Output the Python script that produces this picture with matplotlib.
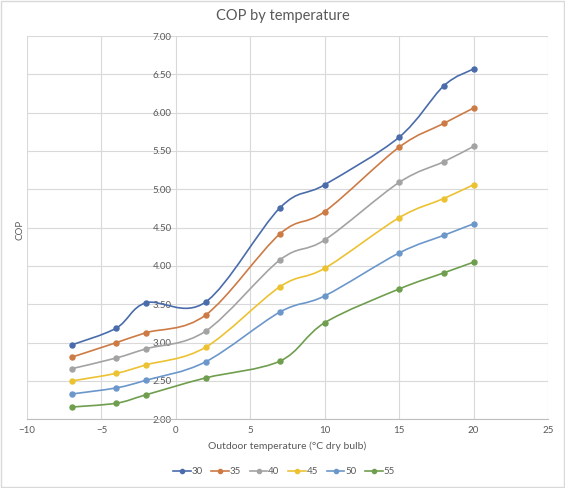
import numpy as np
import matplotlib
matplotlib.use('Agg')
import matplotlib.pyplot as plt
from matplotlib.path import Path
from matplotlib.patches import PathPatch, Rectangle
from matplotlib.lines import Line2D

plt.rcParams['font.family'] = ['Lato', 'DejaVu Sans']

# data
temps = [-7, -4, -2, 2, 7, 10, 15, 18, 20]
series_names = ['30', '35', '40', '45', '50', '55']
cop_30 = [2.97, 3.19, 3.52, 3.53, 4.76, 5.06, 5.68, 6.35, 6.57]
cop_35 = [2.81, 3.00, 3.13, 3.36, 4.42, 4.71, 5.55, 5.86, 6.06]
cop_40 = [2.66, 2.80, 2.92, 3.15, 4.08, 4.34, 5.09, 5.36, 5.56]
cop_45 = [2.50, 2.60, 2.71, 2.94, 3.73, 3.97, 4.63, 4.88, 5.06]
cop_50 = [2.33, 2.41, 2.51, 2.75, 3.40, 3.61, 4.17, 4.40, 4.55]
cop_55 = [2.16, 2.21, 2.32, 2.54, 2.76, 3.26, 3.70, 3.91, 4.05]
colors = ['#4a6cab', '#cd7b45', '#a3a3a3', '#ecc233', '#6b97cb', '#6f9e4e']


def smooth_path(x, y):
    # excel-like smoothed line: bezier segments through the points
    p = np.column_stack([x, y]).astype(float)
    n = len(p)
    verts = [p[0]]
    codes = [Path.MOVETO]
    for i in range(n - 1):
        p_prev = p[i - 1] if i > 0 else p[i]
        p_next2 = p[i + 2] if i + 2 < n else p[i + 1]
        c1 = p[i] + (p[i + 1] - p_prev) / 6
        c2 = p[i + 1] - (p_next2 - p[i]) / 6
        verts += [c1, c2, p[i + 1]]
        codes += [Path.CURVE4] * 3
    return Path(verts, codes)


fig = plt.figure(figsize=(5.65, 4.88), dpi=100)
ax = fig.add_axes([27 / 565, 1 - 419.3 / 488, 521 / 565, 383.3 / 488])

all_series = [cop_30, cop_35, cop_40, cop_45, cop_50, cop_55]
handles = []
for name, vals, c in zip(series_names, all_series, colors):
    ax.add_patch(PathPatch(smooth_path(temps, vals), fill=False, edgecolor=c, lw=1.2, zorder=3))
    ax.plot(temps, vals, 'o', color=c, ms=3.6, zorder=4)
    handles.append(Line2D([], [], color=c, lw=1.2, marker='o', ms=3, label=name))

ax.set_xlim(-10, 25)
ax.set_ylim(2, 7)
ax.set_xticks(np.arange(-10, 26, 5))
ax.set_yticks(np.arange(2, 7.01, 0.5))
ax.set_yticklabels(['%.2f' % v for v in np.arange(2, 7.01, 0.5)])
ax.grid(True, color='#d9d9d9', lw=0.8)
ax.set_axisbelow(True)

for s in ['top', 'right', 'left']:
    ax.spines[s].set_visible(False)
ax.spines['bottom'].set_color('#bfbfbf')
ax.spines['left'].set_position(('data', 0))
ax.tick_params(axis='both', length=0, labelsize=7, colors='#595959', pad=5)
ax.tick_params(axis='y', pad=3)

fig.text(283 / 565, 1 - 16 / 488, 'COP by temperature', ha='center', va='center',
         fontsize=10.5, color='#595959')
fig.text(20 / 565, 1 - 230 / 488, 'COP', ha='center', va='center', rotation=90,
         fontsize=7, color='#595959')
fig.text(287 / 565, 1 - 446 / 488, 'Outdoor temperature (°C dry bulb)', ha='center', va='center',
         fontsize=7.5, color='#595959')

leg = fig.legend(handles=handles, loc='center', bbox_to_anchor=(284 / 565, 1 - 472 / 488),
                 ncol=6, frameon=False, fontsize=7, handlelength=1.8, columnspacing=0.9,
                 handletextpad=0.1)
for t in leg.get_texts():
    t.set_color('#595959')

fig.patches.append(Rectangle((0.002, 0.002), 0.996, 0.996, transform=fig.transFigure,
                             fill=False, edgecolor='#d9d9d9', lw=1))

fig.savefig('out.png', dpi=100)
